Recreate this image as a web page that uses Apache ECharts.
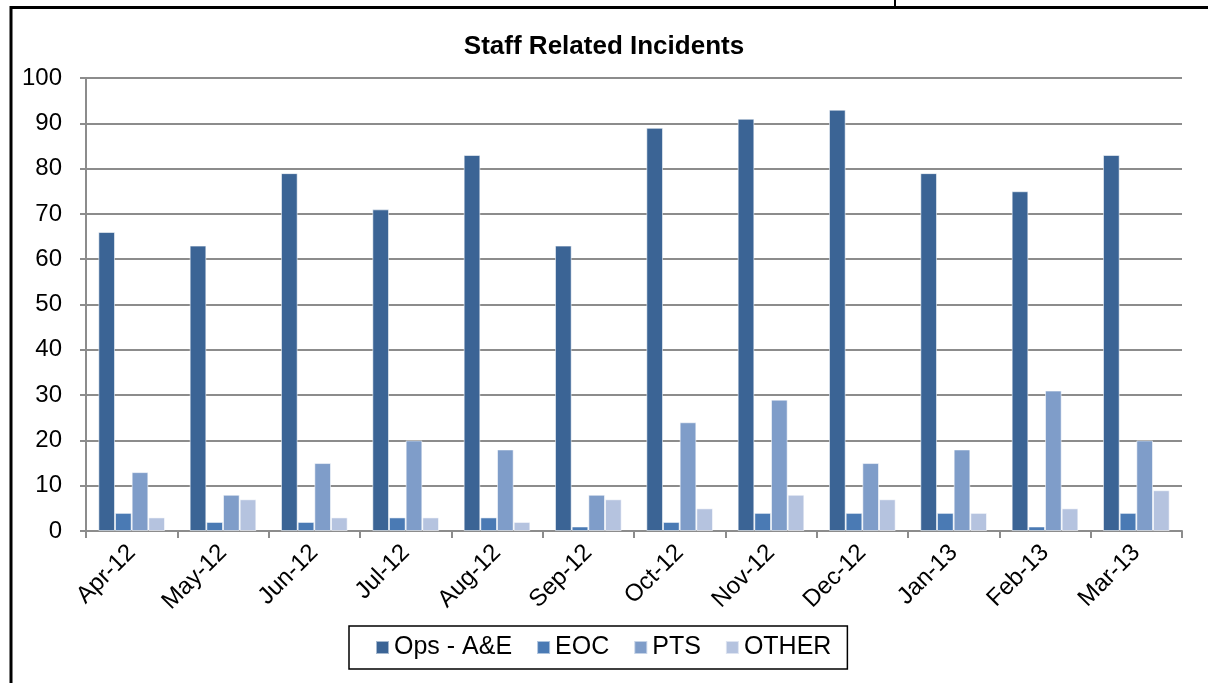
<!DOCTYPE html>
<html>
<head>
<meta charset="utf-8">
<title>Staff Related Incidents</title>
<script src="https://cdn.jsdelivr.net/npm/echarts@6/dist/echarts.min.js"></script>
<style>
  html, body { margin: 0; padding: 0; background: #fff; }
  #chart { width: 1208px; height: 683px; }
</style>
</head>
<body>
<div id="chart"></div>
<script>
// Monthly staff related incidents, Apr-12 to Mar-13
const months = ['Apr-12', 'May-12', 'Jun-12', 'Jul-12', 'Aug-12', 'Sep-12',
                'Oct-12', 'Nov-12', 'Dec-12', 'Jan-13', 'Feb-13', 'Mar-13'];
const opsAE = [66, 63, 79, 71, 83, 63, 89, 91, 93, 79, 75, 83];
const eoc   = [4, 2, 2, 3, 3, 1, 2, 4, 4, 4, 1, 4];
const pts   = [13, 8, 15, 20, 18, 8, 24, 29, 15, 18, 31, 20];
const other = [3, 7, 3, 3, 2, 7, 5, 8, 7, 4, 5, 9];
const yTicks = { min: 0, max: 100, interval: 10 };

const FONT = '"Liberation Sans", Arial, sans-serif';
const seriesDefs = [
  { name: 'Ops - A&E', data: opsAE, color: '#3B6495' },
  { name: 'EOC',       data: eoc,   color: '#4A7AB4' },
  { name: 'PTS',       data: pts,   color: '#7F9DC9' },
  { name: 'OTHER',     data: other, color: '#B5C3DF' }
];

const chart = echarts.init(document.getElementById('chart'), null, { renderer: 'canvas' });

chart.setOption({
  animation: false,
  backgroundColor: '#fff',
  textStyle: { fontFamily: FONT },
  title: {
    text: 'Staff Related Incidents',
    left: 'center',
    top: 29,
    textStyle: { fontFamily: FONT, fontSize: 26, fontWeight: 'bold', color: '#000' }
  },
  grid: { left: 86, right: 26, top: 78, bottom: 152, containLabel: false },
  legend: {
    left: 349,
    top: 626,
    padding: [9, 16, 9, 26],
    itemGap: 24,
    itemWidth: 13,
    itemHeight: 13,
    icon: 'rect',
    borderColor: '#000',
    borderWidth: 1.5,
    textStyle: { fontFamily: FONT, fontSize: 25, color: '#000' },
    data: seriesDefs.map(s => s.name)
  },
  xAxis: {
    type: 'category',
    data: months,
    boundaryGap: true,
    axisLine: { lineStyle: { color: '#8C8C8C', width: 2 } },
    axisTick: { show: true, length: 7, lineStyle: { color: '#8C8C8C', width: 2 } },
    axisLabel: {
      rotate: 45,
      margin: 18,
      interval: 0,
      fontFamily: FONT,
      fontSize: 24,
      color: '#000'
    }
  },
  yAxis: {
    type: 'value',
    min: yTicks.min,
    max: yTicks.max,
    interval: yTicks.interval,
    axisLine: { show: true, lineStyle: { color: '#8C8C8C', width: 2 } },
    axisTick: { show: true, length: 6, lineStyle: { color: '#8C8C8C', width: 2 } },
    splitLine: { show: true, lineStyle: { color: '#8C8C8C', width: 2 } },
    axisLabel: { margin: 24, fontFamily: FONT, fontSize: 24, color: '#000' }
  },
  series: seriesDefs.map(s => ({
    name: s.name,
    type: 'bar',
    data: s.data,
    barGap: '0%',
    barCategoryGap: '27%',
    itemStyle: { color: s.color, borderColor: 'rgba(255,255,255,0.55)', borderWidth: 1 }
  })),
  graphic: [
    {
      type: 'polyline',
      shape: { points: [[1208, 7.5], [11, 7.5], [11, 683]] },
      style: { stroke: '#000', lineWidth: 3, fill: null }
    },
    {
      type: 'line',
      shape: { x1: 895, y1: 0, x2: 895, y2: 7 },
      style: { stroke: '#000', lineWidth: 2 }
    }
  ]
});
</script>
</body>
</html>
